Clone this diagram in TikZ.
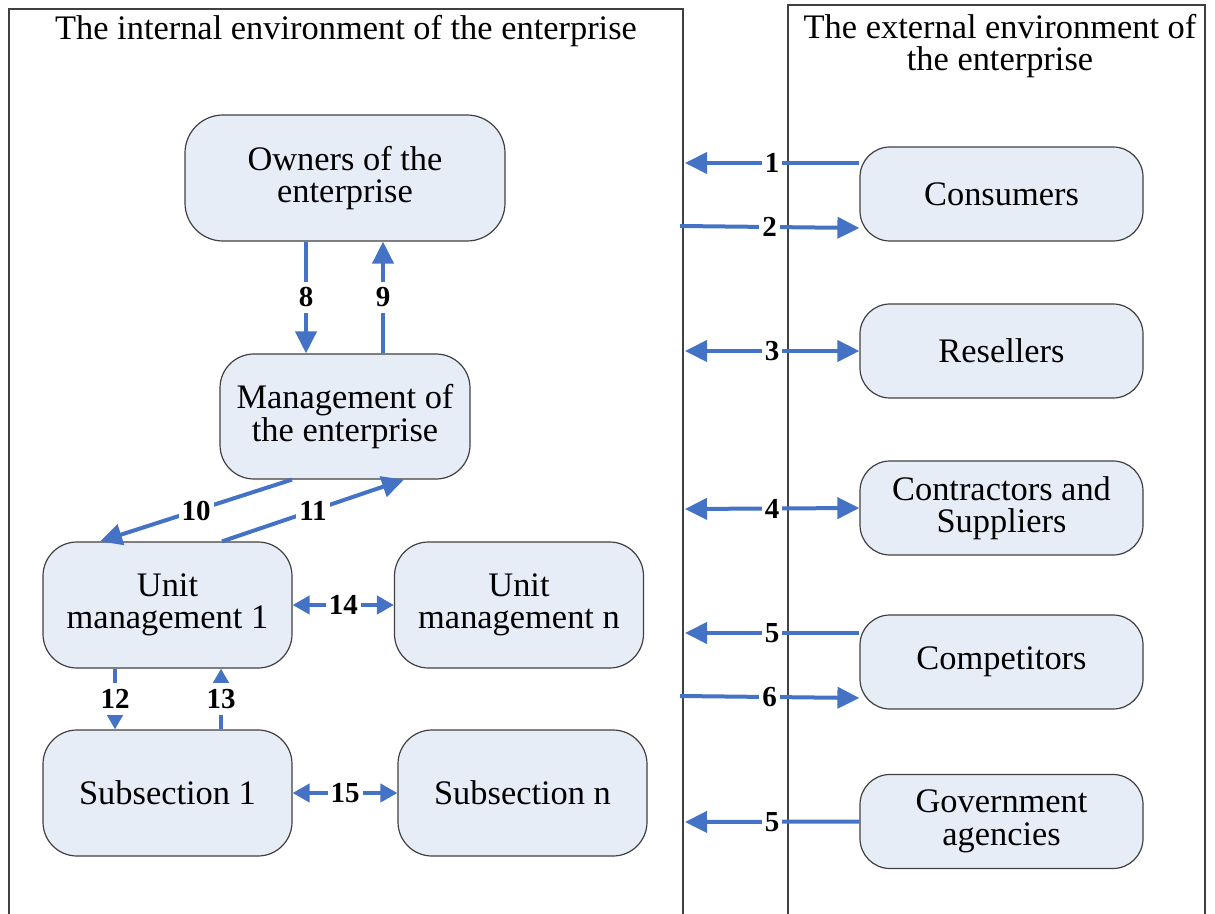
\documentclass[tikz,border=0pt]{standalone}
\usepackage{fontspec}
\setmainfont{Liberation Serif}
\usetikzlibrary{arrows.meta}
\definecolor{arrowblue}{HTML}{4472C4}
\definecolor{boxfill}{HTML}{E7EDF7}
\definecolor{edgegray}{HTML}{404040}
\newcommand{\bodyfont}{\fontsize{17.2}{16.2}\selectfont}
\tikzset{
  box/.style={draw=edgegray, line width=0.6pt, fill=boxfill, rounded corners=17pt,
    align=center, font=\bodyfont, inner sep=2pt, minimum width=124.5pt, minimum height=63pt},
  extbox/.style={box, minimum width=141.5pt, minimum height=47pt, rounded corners=15pt},
  flow/.style={draw=arrowblue, line width=2pt, -{Triangle[length=11pt,width=10.5pt]}},
  flowboth/.style={flow, {Triangle[length=11pt,width=10.5pt]}-{Triangle[length=11pt,width=10.5pt]}},
  smallflow/.style={flow, -{Triangle[length=7.5pt,width=8pt]}},
  smallboth/.style={flow, {Triangle[length=8.5pt,width=9pt]}-{Triangle[length=8.5pt,width=9pt]}},
  num/.style={fill=white, inner xsep=1.5pt, inner ysep=3pt, font=\fontsize{14.5}{14.5}\selectfont\bfseries},
  panel/.style={draw=edgegray, line width=0.6pt},
}
\begin{document}
\begin{tikzpicture}[x=0.5pt,y=-0.5pt]
  \useasboundingbox (0,0) rectangle (1215,914);
  %% panels
  \draw[panel] (9,914) -- (9,9) -- (683,9) -- (683,914);
  \draw[panel] (788,914) -- (788,5) -- (1205,5) -- (1205,914);
  \node[anchor=base, font=\bodyfont] (inthead) at (346,40) {The internal environment of the enterprise};
  \node[align=center, font=\bodyfont] (exthead) at (1000,46) {The external environment of\\the enterprise};
  %% internal environment
  \node[box, minimum width=160pt, rounded corners=19pt] (owners) at (345,178) {Owners of the\\enterprise};
  \node[box, minimum width=125pt, minimum height=62.5pt] (mgmt) at (345,416.5) {Management of\\the enterprise};
  \node[box] (unitone) at (167.5,605) {Unit\\management 1};
  \node[box] (unitn) at (519,605) {Unit\\management n};
  \node[box] (subone) at (167.5,793) {Subsection 1};
  \node[box] (subn) at (522.5,793) {Subsection n};
  %% external environment
  \foreach \name/\y/\txt in {consumers/194/Consumers, resellers/351/Resellers,
      suppliers/508/{Contractors and\\Suppliers}, competitors/662/Competitors,
      agencies/821.5/{Government\\agencies}}
    \node[extbox] (\name) at (1001.5,\y) {\txt};
  %% free ends at the border
  \foreach \n/\x/\y in {e1/685/163, e2/680/226, e3/685/351, e4/685/509,
      e5/685/633, e6/680/696, e7/685/822}
    \coordinate (\n) at (\x,\y);
  %% links with the outside
  \draw[flow] ([yshift=15.5pt]consumers.west) -- (e1) node[num,midway] {1};
  \draw[flow] (e2) -- ([yshift=-17pt]consumers.west) node[num,midway] {2};
  \draw[flowboth] (e3) -- (resellers.west) node[num,midway] {3};
  \draw[flowboth] (e4) -- (suppliers.west) node[num,midway] {4};
  \draw[flow] ([yshift=14.5pt]competitors.west) -- (e5) node[num,midway] {5};
  \draw[flow] (e6) -- ([yshift=-18pt]competitors.west) node[num,midway] {6};
  \draw[flow] (agencies.west) -- (e7) node[num,midway] {5};
  %% links inside
  \draw[flow] ([xshift=-19.5pt]owners.south) -- ([xshift=-19.5pt]mgmt.north) node[num,midway] {8};
  \draw[flow] ([xshift=19pt]mgmt.north) -- ([xshift=19pt]owners.south) node[num,midway] {9};
  \draw[flow] ([xshift=-26.5pt]mgmt.south) -- ([xshift=-33.75pt]unitone.north) node[num,midway] {10};
  \draw[flow] ([xshift=27.25pt]unitone.north) -- ([xshift=29.5pt]mgmt.south) node[num,midway] {11};
  \draw[smallflow] ([xshift=-26.25pt]unitone.south) -- ([xshift=-26.25pt]subone.north) node[num,midway] {12};
  \draw[smallflow] ([xshift=26.75pt]subone.north) -- ([xshift=26.75pt]unitone.south) node[num,midway] {13};
  \draw[smallboth] (unitone.east) -- (unitn.west) node[num,midway] {14};
  \draw[smallboth] (subone.east) -- (subn.west) node[num,midway] {15};
\end{tikzpicture}
\end{document}
